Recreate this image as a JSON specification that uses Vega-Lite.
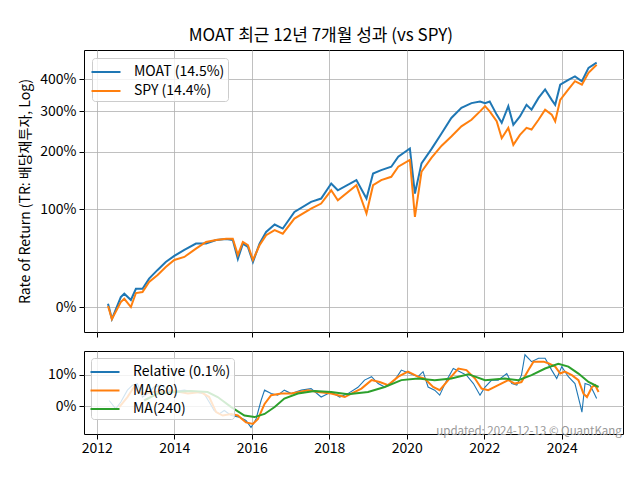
{
  "$schema": "https://vega.github.io/schema/vega-lite/v6.json",
  "padding": {"left": 18, "top": 26, "right": 18, "bottom": 10},
  "title": {"text": "MOAT 최근 12년 7개월 성과 (vs SPY)", "fontSize": 17, "fontWeight": "normal", "color": "black", "anchor": "middle", "offset": 5},
  "datasets": {
    "top": [
      {"t": 2012.29, "s": "MOAT (14.5%)", "v": 1.024}, {"t": 2012.39, "s": "MOAT (14.5%)", "v": 0.918}, {"t": 2012.62, "s": "MOAT (14.5%)", "v": 1.073}, {"t": 2012.71, "s": "MOAT (14.5%)", "v": 1.099}, {"t": 2012.88, "s": "MOAT (14.5%)", "v": 1.051}, {"t": 2013.01, "s": "MOAT (14.5%)", "v": 1.138}, {"t": 2013.18, "s": "MOAT (14.5%)", "v": 1.138}, {"t": 2013.35, "s": "MOAT (14.5%)", "v": 1.222}, {"t": 2013.57, "s": "MOAT (14.5%)", "v": 1.300}, {"t": 2013.78, "s": "MOAT (14.5%)", "v": 1.375}, {"t": 2014.00, "s": "MOAT (14.5%)", "v": 1.435}, {"t": 2014.26, "s": "MOAT (14.5%)", "v": 1.497}, {"t": 2014.56, "s": "MOAT (14.5%)", "v": 1.566}, {"t": 2014.82, "s": "MOAT (14.5%)", "v": 1.566}, {"t": 2015.08, "s": "MOAT (14.5%)", "v": 1.607}, {"t": 2015.34, "s": "MOAT (14.5%)", "v": 1.619}, {"t": 2015.51, "s": "MOAT (14.5%)", "v": 1.607}, {"t": 2015.64, "s": "MOAT (14.5%)", "v": 1.405}, {"t": 2015.77, "s": "MOAT (14.5%)", "v": 1.566}, {"t": 2015.90, "s": "MOAT (14.5%)", "v": 1.529}, {"t": 2016.03, "s": "MOAT (14.5%)", "v": 1.375}, {"t": 2016.20, "s": "MOAT (14.5%)", "v": 1.566}, {"t": 2016.37, "s": "MOAT (14.5%)", "v": 1.701}, {"t": 2016.59, "s": "MOAT (14.5%)", "v": 1.792}, {"t": 2016.80, "s": "MOAT (14.5%)", "v": 1.742}, {"t": 2017.10, "s": "MOAT (14.5%)", "v": 1.960}, {"t": 2017.53, "s": "MOAT (14.5%)", "v": 2.105}, {"t": 2017.79, "s": "MOAT (14.5%)", "v": 2.154}, {"t": 2018.05, "s": "MOAT (14.5%)", "v": 2.396}, {"t": 2018.22, "s": "MOAT (14.5%)", "v": 2.283}, {"t": 2018.70, "s": "MOAT (14.5%)", "v": 2.455}, {"t": 2018.96, "s": "MOAT (14.5%)", "v": 2.154}, {"t": 2019.13, "s": "MOAT (14.5%)", "v": 2.570}, {"t": 2019.34, "s": "MOAT (14.5%)", "v": 2.634}, {"t": 2019.60, "s": "MOAT (14.5%)", "v": 2.697}, {"t": 2019.78, "s": "MOAT (14.5%)", "v": 2.895}, {"t": 2020.08, "s": "MOAT (14.5%)", "v": 3.068}, {"t": 2020.21, "s": "MOAT (14.5%)", "v": 2.231}, {"t": 2020.38, "s": "MOAT (14.5%)", "v": 2.763}, {"t": 2020.64, "s": "MOAT (14.5%)", "v": 3.060}, {"t": 2020.90, "s": "MOAT (14.5%)", "v": 3.420}, {"t": 2021.15, "s": "MOAT (14.5%)", "v": 3.810}, {"t": 2021.41, "s": "MOAT (14.5%)", "v": 4.090}, {"t": 2021.67, "s": "MOAT (14.5%)", "v": 4.230}, {"t": 2021.89, "s": "MOAT (14.5%)", "v": 4.280}, {"t": 2022.02, "s": "MOAT (14.5%)", "v": 4.230}, {"t": 2022.14, "s": "MOAT (14.5%)", "v": 4.280}, {"t": 2022.32, "s": "MOAT (14.5%)", "v": 3.900}, {"t": 2022.45, "s": "MOAT (14.5%)", "v": 3.680}, {"t": 2022.62, "s": "MOAT (14.5%)", "v": 4.140}, {"t": 2022.75, "s": "MOAT (14.5%)", "v": 3.630}, {"t": 2022.92, "s": "MOAT (14.5%)", "v": 3.850}, {"t": 2023.09, "s": "MOAT (14.5%)", "v": 4.180}, {"t": 2023.22, "s": "MOAT (14.5%)", "v": 4.040}, {"t": 2023.40, "s": "MOAT (14.5%)", "v": 4.390}, {"t": 2023.57, "s": "MOAT (14.5%)", "v": 4.660}, {"t": 2023.74, "s": "MOAT (14.5%)", "v": 4.330}, {"t": 2023.83, "s": "MOAT (14.5%)", "v": 4.180}, {"t": 2023.96, "s": "MOAT (14.5%)", "v": 4.820}, {"t": 2024.17, "s": "MOAT (14.5%)", "v": 4.990}, {"t": 2024.34, "s": "MOAT (14.5%)", "v": 5.110}, {"t": 2024.52, "s": "MOAT (14.5%)", "v": 4.940}, {"t": 2024.69, "s": "MOAT (14.5%)", "v": 5.430}, {"t": 2024.90, "s": "MOAT (14.5%)", "v": 5.630},
      {"t": 2012.29, "s": "SPY (14.4%)", "v": 1.007}, {"t": 2012.39, "s": "SPY (14.4%)", "v": 0.918}, {"t": 2012.62, "s": "SPY (14.4%)", "v": 1.036}, {"t": 2012.71, "s": "SPY (14.4%)", "v": 1.060}, {"t": 2012.88, "s": "SPY (14.4%)", "v": 1.000}, {"t": 2013.01, "s": "SPY (14.4%)", "v": 1.104}, {"t": 2013.18, "s": "SPY (14.4%)", "v": 1.112}, {"t": 2013.35, "s": "SPY (14.4%)", "v": 1.194}, {"t": 2013.57, "s": "SPY (14.4%)", "v": 1.254}, {"t": 2013.78, "s": "SPY (14.4%)", "v": 1.327}, {"t": 2014.00, "s": "SPY (14.4%)", "v": 1.395}, {"t": 2014.26, "s": "SPY (14.4%)", "v": 1.425}, {"t": 2014.56, "s": "SPY (14.4%)", "v": 1.512}, {"t": 2014.82, "s": "SPY (14.4%)", "v": 1.584}, {"t": 2015.08, "s": "SPY (14.4%)", "v": 1.607}, {"t": 2015.34, "s": "SPY (14.4%)", "v": 1.622}, {"t": 2015.51, "s": "SPY (14.4%)", "v": 1.622}, {"t": 2015.64, "s": "SPY (14.4%)", "v": 1.446}, {"t": 2015.77, "s": "SPY (14.4%)", "v": 1.584}, {"t": 2015.90, "s": "SPY (14.4%)", "v": 1.548}, {"t": 2016.03, "s": "SPY (14.4%)", "v": 1.395}, {"t": 2016.20, "s": "SPY (14.4%)", "v": 1.548}, {"t": 2016.37, "s": "SPY (14.4%)", "v": 1.662}, {"t": 2016.59, "s": "SPY (14.4%)", "v": 1.722}, {"t": 2016.80, "s": "SPY (14.4%)", "v": 1.680}, {"t": 2017.10, "s": "SPY (14.4%)", "v": 1.869}, {"t": 2017.53, "s": "SPY (14.4%)", "v": 2.007}, {"t": 2017.79, "s": "SPY (14.4%)", "v": 2.079}, {"t": 2018.05, "s": "SPY (14.4%)", "v": 2.283}, {"t": 2018.22, "s": "SPY (14.4%)", "v": 2.129}, {"t": 2018.70, "s": "SPY (14.4%)", "v": 2.367}, {"t": 2018.96, "s": "SPY (14.4%)", "v": 1.937}, {"t": 2019.13, "s": "SPY (14.4%)", "v": 2.367}, {"t": 2019.34, "s": "SPY (14.4%)", "v": 2.455}, {"t": 2019.60, "s": "SPY (14.4%)", "v": 2.512}, {"t": 2019.78, "s": "SPY (14.4%)", "v": 2.697}, {"t": 2020.08, "s": "SPY (14.4%)", "v": 2.829}, {"t": 2020.21, "s": "SPY (14.4%)", "v": 1.892}, {"t": 2020.38, "s": "SPY (14.4%)", "v": 2.603}, {"t": 2020.64, "s": "SPY (14.4%)", "v": 2.875}, {"t": 2020.90, "s": "SPY (14.4%)", "v": 3.130}, {"t": 2021.15, "s": "SPY (14.4%)", "v": 3.340}, {"t": 2021.41, "s": "SPY (14.4%)", "v": 3.590}, {"t": 2021.67, "s": "SPY (14.4%)", "v": 3.760}, {"t": 2021.89, "s": "SPY (14.4%)", "v": 3.990}, {"t": 2022.02, "s": "SPY (14.4%)", "v": 4.140}, {"t": 2022.14, "s": "SPY (14.4%)", "v": 3.990}, {"t": 2022.32, "s": "SPY (14.4%)", "v": 3.720}, {"t": 2022.45, "s": "SPY (14.4%)", "v": 3.300}, {"t": 2022.62, "s": "SPY (14.4%)", "v": 3.550}, {"t": 2022.75, "s": "SPY (14.4%)", "v": 3.150}, {"t": 2022.92, "s": "SPY (14.4%)", "v": 3.380}, {"t": 2023.09, "s": "SPY (14.4%)", "v": 3.550}, {"t": 2023.22, "s": "SPY (14.4%)", "v": 3.510}, {"t": 2023.40, "s": "SPY (14.4%)", "v": 3.760}, {"t": 2023.57, "s": "SPY (14.4%)", "v": 4.040}, {"t": 2023.74, "s": "SPY (14.4%)", "v": 3.900}, {"t": 2023.83, "s": "SPY (14.4%)", "v": 3.720}, {"t": 2023.96, "s": "SPY (14.4%)", "v": 4.330}, {"t": 2024.17, "s": "SPY (14.4%)", "v": 4.660}, {"t": 2024.34, "s": "SPY (14.4%)", "v": 4.940}, {"t": 2024.52, "s": "SPY (14.4%)", "v": 4.820}, {"t": 2024.69, "s": "SPY (14.4%)", "v": 5.240}, {"t": 2024.90, "s": "SPY (14.4%)", "v": 5.550}
    ],
    "rel": [
      {"t": 2012.32, "s": "Relative (0.1%)", "v": 1.8}, {"t": 2012.49, "s": "Relative (0.1%)", "v": -0.9}, {"t": 2012.62, "s": "Relative (0.1%)", "v": 1.3}, {"t": 2012.79, "s": "Relative (0.1%)", "v": 5.1}, {"t": 2012.92, "s": "Relative (0.1%)", "v": 6.7}, {"t": 2013.05, "s": "Relative (0.1%)", "v": 7.2}, {"t": 2013.18, "s": "Relative (0.1%)", "v": 2.9}, {"t": 2013.31, "s": "Relative (0.1%)", "v": 4.0}, {"t": 2013.48, "s": "Relative (0.1%)", "v": 6.1}, {"t": 2013.66, "s": "Relative (0.1%)", "v": 6.7}, {"t": 2013.91, "s": "Relative (0.1%)", "v": 4.5}, {"t": 2014.26, "s": "Relative (0.1%)", "v": 5.1}, {"t": 2014.52, "s": "Relative (0.1%)", "v": 4.5}, {"t": 2014.77, "s": "Relative (0.1%)", "v": 4.0}, {"t": 2014.90, "s": "Relative (0.1%)", "v": 1.3}, {"t": 2015.03, "s": "Relative (0.1%)", "v": -1.4}, {"t": 2015.16, "s": "Relative (0.1%)", "v": -2.5}, {"t": 2015.29, "s": "Relative (0.1%)", "v": -1.4}, {"t": 2015.47, "s": "Relative (0.1%)", "v": -3.0}, {"t": 2015.68, "s": "Relative (0.1%)", "v": -3.5}, {"t": 2015.85, "s": "Relative (0.1%)", "v": -4.6}, {"t": 2015.98, "s": "Relative (0.1%)", "v": -6.8}, {"t": 2016.11, "s": "Relative (0.1%)", "v": -4.1}, {"t": 2016.24, "s": "Relative (0.1%)", "v": 1.8}, {"t": 2016.33, "s": "Relative (0.1%)", "v": 5.1}, {"t": 2016.50, "s": "Relative (0.1%)", "v": 4.0}, {"t": 2016.67, "s": "Relative (0.1%)", "v": 3.5}, {"t": 2016.84, "s": "Relative (0.1%)", "v": 5.1}, {"t": 2017.02, "s": "Relative (0.1%)", "v": 4.0}, {"t": 2017.28, "s": "Relative (0.1%)", "v": 5.1}, {"t": 2017.53, "s": "Relative (0.1%)", "v": 5.6}, {"t": 2017.79, "s": "Relative (0.1%)", "v": 2.9}, {"t": 2018.05, "s": "Relative (0.1%)", "v": 4.5}, {"t": 2018.27, "s": "Relative (0.1%)", "v": 2.9}, {"t": 2018.48, "s": "Relative (0.1%)", "v": 4.0}, {"t": 2018.74, "s": "Relative (0.1%)", "v": 6.0}, {"t": 2018.91, "s": "Relative (0.1%)", "v": 8.3}, {"t": 2019.09, "s": "Relative (0.1%)", "v": 9.4}, {"t": 2019.26, "s": "Relative (0.1%)", "v": 7.2}, {"t": 2019.43, "s": "Relative (0.1%)", "v": 6.1}, {"t": 2019.69, "s": "Relative (0.1%)", "v": 8.3}, {"t": 2019.86, "s": "Relative (0.1%)", "v": 11.5}, {"t": 2020.08, "s": "Relative (0.1%)", "v": 10.4}, {"t": 2020.29, "s": "Relative (0.1%)", "v": 9.4}, {"t": 2020.42, "s": "Relative (0.1%)", "v": 11.0}, {"t": 2020.55, "s": "Relative (0.1%)", "v": 6.1}, {"t": 2020.72, "s": "Relative (0.1%)", "v": 5.1}, {"t": 2020.85, "s": "Relative (0.1%)", "v": 3.5}, {"t": 2021.03, "s": "Relative (0.1%)", "v": 8.3}, {"t": 2021.20, "s": "Relative (0.1%)", "v": 12.0}, {"t": 2021.37, "s": "Relative (0.1%)", "v": 11.0}, {"t": 2021.54, "s": "Relative (0.1%)", "v": 9.9}, {"t": 2021.72, "s": "Relative (0.1%)", "v": 7.2}, {"t": 2021.89, "s": "Relative (0.1%)", "v": 3.5}, {"t": 2022.02, "s": "Relative (0.1%)", "v": 6.1}, {"t": 2022.19, "s": "Relative (0.1%)", "v": 8.3}, {"t": 2022.36, "s": "Relative (0.1%)", "v": 8.3}, {"t": 2022.58, "s": "Relative (0.1%)", "v": 10.4}, {"t": 2022.71, "s": "Relative (0.1%)", "v": 7.2}, {"t": 2022.84, "s": "Relative (0.1%)", "v": 6.7}, {"t": 2022.96, "s": "Relative (0.1%)", "v": 9.9}, {"t": 2023.05, "s": "Relative (0.1%)", "v": 16.4}, {"t": 2023.22, "s": "Relative (0.1%)", "v": 14.2}, {"t": 2023.40, "s": "Relative (0.1%)", "v": 15.3}, {"t": 2023.57, "s": "Relative (0.1%)", "v": 15.3}, {"t": 2023.74, "s": "Relative (0.1%)", "v": 11.5}, {"t": 2023.87, "s": "Relative (0.1%)", "v": 8.8}, {"t": 2024.00, "s": "Relative (0.1%)", "v": 12.6}, {"t": 2024.17, "s": "Relative (0.1%)", "v": 9.4}, {"t": 2024.34, "s": "Relative (0.1%)", "v": 7.2}, {"t": 2024.47, "s": "Relative (0.1%)", "v": 0.7}, {"t": 2024.52, "s": "Relative (0.1%)", "v": -1.9}, {"t": 2024.60, "s": "Relative (0.1%)", "v": 7.2}, {"t": 2024.73, "s": "Relative (0.1%)", "v": 6.7}, {"t": 2024.82, "s": "Relative (0.1%)", "v": 4.5}, {"t": 2024.90, "s": "Relative (0.1%)", "v": 2.4}
    ],
    "ma60": [
      {"t": 2012.58, "s": "MA(60)", "v": -0.3}, {"t": 2012.79, "s": "MA(60)", "v": 2.9}, {"t": 2012.96, "s": "MA(60)", "v": 6.1}, {"t": 2013.09, "s": "MA(60)", "v": 4.5}, {"t": 2013.22, "s": "MA(60)", "v": 4.0}, {"t": 2013.48, "s": "MA(60)", "v": 4.5}, {"t": 2013.91, "s": "MA(60)", "v": 5.1}, {"t": 2014.35, "s": "MA(60)", "v": 4.0}, {"t": 2014.69, "s": "MA(60)", "v": 4.5}, {"t": 2014.90, "s": "MA(60)", "v": 2.9}, {"t": 2015.08, "s": "MA(60)", "v": -1.9}, {"t": 2015.25, "s": "MA(60)", "v": -3.0}, {"t": 2015.47, "s": "MA(60)", "v": -2.5}, {"t": 2015.64, "s": "MA(60)", "v": -3.0}, {"t": 2015.85, "s": "MA(60)", "v": -5.2}, {"t": 2016.03, "s": "MA(60)", "v": -5.7}, {"t": 2016.16, "s": "MA(60)", "v": -4.1}, {"t": 2016.33, "s": "MA(60)", "v": 0.7}, {"t": 2016.50, "s": "MA(60)", "v": 3.5}, {"t": 2016.76, "s": "MA(60)", "v": 4.0}, {"t": 2017.02, "s": "MA(60)", "v": 4.0}, {"t": 2017.45, "s": "MA(60)", "v": 5.1}, {"t": 2017.71, "s": "MA(60)", "v": 4.5}, {"t": 2018.05, "s": "MA(60)", "v": 4.0}, {"t": 2018.40, "s": "MA(60)", "v": 2.9}, {"t": 2018.57, "s": "MA(60)", "v": 4.0}, {"t": 2018.83, "s": "MA(60)", "v": 5.6}, {"t": 2019.09, "s": "MA(60)", "v": 8.3}, {"t": 2019.30, "s": "MA(60)", "v": 7.7}, {"t": 2019.52, "s": "MA(60)", "v": 6.7}, {"t": 2019.78, "s": "MA(60)", "v": 9.4}, {"t": 2020.03, "s": "MA(60)", "v": 11.0}, {"t": 2020.29, "s": "MA(60)", "v": 9.4}, {"t": 2020.46, "s": "MA(60)", "v": 8.8}, {"t": 2020.68, "s": "MA(60)", "v": 6.1}, {"t": 2020.85, "s": "MA(60)", "v": 5.1}, {"t": 2021.07, "s": "MA(60)", "v": 8.3}, {"t": 2021.33, "s": "MA(60)", "v": 12.0}, {"t": 2021.54, "s": "MA(60)", "v": 11.5}, {"t": 2021.76, "s": "MA(60)", "v": 8.8}, {"t": 2021.93, "s": "MA(60)", "v": 5.6}, {"t": 2022.10, "s": "MA(60)", "v": 5.1}, {"t": 2022.36, "s": "MA(60)", "v": 6.7}, {"t": 2022.62, "s": "MA(60)", "v": 8.3}, {"t": 2022.79, "s": "MA(60)", "v": 7.2}, {"t": 2022.96, "s": "MA(60)", "v": 7.7}, {"t": 2023.14, "s": "MA(60)", "v": 11.5}, {"t": 2023.27, "s": "MA(60)", "v": 14.2}, {"t": 2023.53, "s": "MA(60)", "v": 14.2}, {"t": 2023.65, "s": "MA(60)", "v": 13.7}, {"t": 2023.83, "s": "MA(60)", "v": 12.6}, {"t": 2023.96, "s": "MA(60)", "v": 10.4}, {"t": 2024.08, "s": "MA(60)", "v": 11.0}, {"t": 2024.26, "s": "MA(60)", "v": 9.9}, {"t": 2024.43, "s": "MA(60)", "v": 8.3}, {"t": 2024.56, "s": "MA(60)", "v": 4.0}, {"t": 2024.65, "s": "MA(60)", "v": 2.9}, {"t": 2024.78, "s": "MA(60)", "v": 6.1}, {"t": 2024.86, "s": "MA(60)", "v": 6.7}, {"t": 2024.95, "s": "MA(60)", "v": 4.5}
    ],
    "ma240": [
      {"t": 2013.22, "s": "MA(240)", "v": 1.8}, {"t": 2013.57, "s": "MA(240)", "v": 4.0}, {"t": 2014.00, "s": "MA(240)", "v": 4.5}, {"t": 2014.43, "s": "MA(240)", "v": 4.8}, {"t": 2014.86, "s": "MA(240)", "v": 4.5}, {"t": 2015.12, "s": "MA(240)", "v": 2.9}, {"t": 2015.47, "s": "MA(240)", "v": -0.3}, {"t": 2015.81, "s": "MA(240)", "v": -3.0}, {"t": 2016.07, "s": "MA(240)", "v": -3.5}, {"t": 2016.33, "s": "MA(240)", "v": -2.5}, {"t": 2016.59, "s": "MA(240)", "v": -0.3}, {"t": 2016.84, "s": "MA(240)", "v": 2.4}, {"t": 2017.19, "s": "MA(240)", "v": 4.0}, {"t": 2017.62, "s": "MA(240)", "v": 4.8}, {"t": 2018.05, "s": "MA(240)", "v": 4.5}, {"t": 2018.48, "s": "MA(240)", "v": 3.8}, {"t": 2019.00, "s": "MA(240)", "v": 4.5}, {"t": 2019.43, "s": "MA(240)", "v": 6.1}, {"t": 2019.86, "s": "MA(240)", "v": 8.3}, {"t": 2020.29, "s": "MA(240)", "v": 8.8}, {"t": 2020.72, "s": "MA(240)", "v": 8.3}, {"t": 2021.15, "s": "MA(240)", "v": 8.8}, {"t": 2021.59, "s": "MA(240)", "v": 10.2}, {"t": 2022.02, "s": "MA(240)", "v": 8.3}, {"t": 2022.53, "s": "MA(240)", "v": 8.8}, {"t": 2022.88, "s": "MA(240)", "v": 8.3}, {"t": 2023.22, "s": "MA(240)", "v": 9.9}, {"t": 2023.57, "s": "MA(240)", "v": 12.0}, {"t": 2023.91, "s": "MA(240)", "v": 13.5}, {"t": 2024.17, "s": "MA(240)", "v": 12.6}, {"t": 2024.43, "s": "MA(240)", "v": 10.4}, {"t": 2024.69, "s": "MA(240)", "v": 7.7}, {"t": 2024.95, "s": "MA(240)", "v": 6.1}
    ],
    "note": [
      {"t": 2025.55, "v": -9.8, "label": "updated: 2024-12-13 © QuantKang"}
    ]
  },
  "spacing": 19,
  "bounds": "flush",
  "resolve": {"scale": {"color": "independent"}, "legend": {"color": "independent"}},
  "vconcat": [
    {
      "width": 539,
      "height": 282,
      "layer": [
        {
          "data": {"name": "top"},
          "mark": {"type": "line", "strokeWidth": 2, "interpolate": "linear"},
          "encoding": {
            "x": {"field": "t", "type": "quantitative", "scale": {"domain": [2011.67, 2025.58], "nice": false, "zero": false},
                  "axis": {"values": [2012, 2014, 2016, 2018, 2020, 2022, 2024], "labels": false, "title": null}},
            "y": {"field": "v", "type": "quantitative", "scale": {"type": "log", "domain": [0.838, 6.16], "nice": false},
                  "axis": {"values": [1, 2, 3, 4, 5], "labelExpr": "format(datum.value - 1, '.0%')", "title": "Rate of Return (TR: 배당재투자, Log)", "titlePadding": 7}},
            "color": {"field": "s", "type": "nominal", "scale": {"domain": ["MOAT (14.5%)", "SPY (14.4%)"], "range": ["#1f77b4", "#ff7f0e"]},
                      "legend": {"title": null, "orient": "top-left", "offset": 8, "fillColor": "rgba(255,255,255,0.8)", "strokeColor": "#cccccc", "cornerRadius": 3, "padding": 3, "symbolType": "M-1.45,0L1.45,0", "symbolSize": 400, "symbolStrokeWidth": 2, "labelFontSize": 14, "rowPadding": 1, "labelOffset": 17}}
          }
        },
        {
          "mark": {"type": "rule", "color": "#ff0000", "strokeWidth": 1, "strokeDash": [4, 2]},
          "encoding": {"y": {"datum": 1}}
        }
      ]
    },
    {
      "width": 539,
      "height": 83,
      "layer": [
        {
          "data": {"name": "rel"},
          "mark": {"type": "line", "strokeWidth": 1.1},
          "encoding": {
            "x": {"field": "t", "type": "quantitative", "scale": {"domain": [2011.67, 2025.58], "nice": false, "zero": false},
                  "axis": {"values": [2012, 2014, 2016, 2018, 2020, 2022, 2024], "format": "d", "title": null, "labelPadding": 2}},
            "y": {"field": "v", "type": "quantitative", "scale": {"domain": [-8.9, 17.6], "nice": false, "zero": false},
                  "axis": {"values": [0, 10], "labelExpr": "datum.value + '%'", "title": null}},
            "color": {"field": "s", "type": "nominal", "scale": {"domain": ["Relative (0.1%)", "MA(60)", "MA(240)"], "range": ["#1f77b4", "#ff7f0e", "#2ca02c"]},
                      "legend": {"title": null, "orient": "top-left", "offset": 7, "fillColor": "rgba(255,255,255,0.8)", "strokeColor": "#cccccc", "cornerRadius": 3, "padding": 3, "symbolType": "M-1.45,0L1.45,0", "symbolSize": 400, "symbolStrokeWidth": 2, "labelFontSize": 14, "rowPadding": 0.5, "labelOffset": 17}}
          }
        },
        {
          "data": {"name": "ma60"},
          "mark": {"type": "line", "strokeWidth": 2},
          "encoding": {
            "x": {"field": "t", "type": "quantitative"},
            "y": {"field": "v", "type": "quantitative"},
            "color": {"field": "s", "type": "nominal"}
          }
        },
        {
          "data": {"name": "ma240"},
          "mark": {"type": "line", "strokeWidth": 2},
          "encoding": {
            "x": {"field": "t", "type": "quantitative"},
            "y": {"field": "v", "type": "quantitative"},
            "color": {"field": "s", "type": "nominal"}
          }
        },
        {
          "mark": {"type": "rule", "color": "#ff0000", "strokeWidth": 1.2, "strokeDash": [4, 2]},
          "encoding": {"y": {"datum": 0}}
        },
        {
          "data": {"name": "note"},
          "mark": {"type": "text", "align": "right", "baseline": "bottom", "color": "#999999", "fontSize": 11.5, "clip": false},
          "encoding": {"x": {"field": "t", "type": "quantitative"}, "y": {"field": "v", "type": "quantitative"}, "text": {"field": "label"}}
        }
      ]
    }
  ],
  "config": {
    "font": "Noto Sans CJK KR",
    "view": {"stroke": "black", "strokeWidth": 1},
    "axis": {"grid": true, "gridColor": "#b0b0b0", "gridWidth": 0.8, "domain": false, "tickColor": "black", "tickSize": 5, "labelFontSize": 14, "labelColor": "black", "titleFontWeight": "normal", "titleFontSize": 14, "titleColor": "black", "labelPadding": 3},
    "legend": {"labelColor": "black"}
  }
}
